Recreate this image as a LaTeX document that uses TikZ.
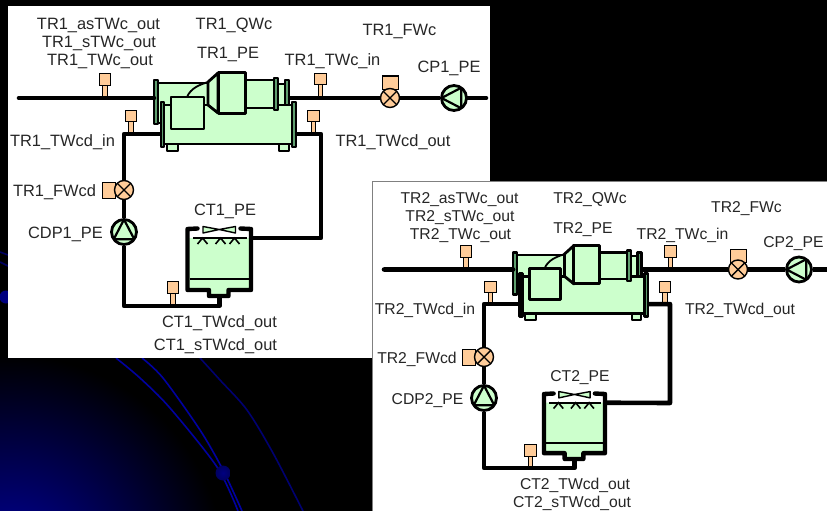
\documentclass[tikz,border=0pt]{standalone}
\usepackage{fontspec}
\setmainfont{Liberation Sans}
\usepackage{tikz}
\usetikzlibrary{calc}

\definecolor{unitgreen}{HTML}{CCFFCC}
\definecolor{flangegreen}{HTML}{5F9F6F}
\definecolor{gaugefill}{HTML}{FFCC99}
\definecolor{arcblue}{RGB}{0,0,160}

\tikzset{
	pipe/.style={line width=4.6pt,line join=round},
	stem/.style={line width=.7pt,double=gaugefill,double distance=3.8pt},
	gauge/.style={draw,rectangle,fill=gaugefill,line width=1pt,inner sep=0,minimum size=11.5pt},
	actuator/.style={gauge,minimum width=16pt,minimum height=13pt},
	sideact/.style={gauge,minimum width=12.5pt,minimum height=16pt},
	valve/.style={draw,circle,fill=gaugefill,line width=1.4pt,inner sep=0,minimum size=19pt,
		path picture={
			\draw[line width=1.4pt,shift={(path picture bounding box.center)}] (45:10pt) -- (225:10pt) (135:10pt) -- (315:10pt);
		}},
	pumpleft/.style={draw,circle,fill=unitgreen,line width=2.8pt,inner sep=0,minimum size=25pt,
		path picture={
			\draw[line width=2.2pt,shift={(path picture bounding box.center)}] (180:12.5pt) -- (55:12.5pt) -- (-55:12.5pt) -- cycle;
		}},
	pumpup/.style={draw,circle,fill=unitgreen,line width=2.8pt,inner sep=0,minimum size=25pt,
		path picture={
			\draw[line width=2.2pt,shift={(path picture bounding box.center)}] (90:12.5pt) -- (215:12.5pt) -- (325:12.5pt) -- cycle;
		}},
	laba/.style={inner sep=0,anchor=base,text=black!85,font=\fontsize{16.4}{18}\selectfont},
	labb/.style={inner sep=0,anchor=base,text=black!85,font=\fontsize{15.7}{18}\selectfont},
	arcline/.style={arcblue,line width=1.6pt},
	chiller/.pic={
		\begin{scope}[draw=black,fill=unitgreen,line width=2.6pt,line join=round]
			\filldraw (2,10) rectangle (55,50);
			\filldraw[line width=2pt] (11,70) rectangle (22,78);
			\filldraw[line width=2pt] (123,70) rectangle (133,78);
			\filldraw (6,32) rectangle (138,71);
			\draw[line width=1.8pt] (31,24) .. controls (35,15) and (43,12) .. (52,9);
			\filldraw (122,11) rectangle (131,32);
			\filldraw[fill=flangegreen] (129,7) rectangle (133,32);
			\filldraw (88,7) rectangle (120,35);
			\filldraw[fill=flangegreen] (118,5) rectangle (122,37);
			\filldraw[line width=2.8pt] (52,9) -- (62,0) -- (62,40) -- (52,32) -- cycle;
			\filldraw[line width=3pt] (62,0) rectangle (89,40);
			\filldraw (15,24) rectangle (48,56);
			\filldraw[fill=flangegreen] (-2,7) rectangle (2,51);
			\filldraw[fill=flangegreen] (5,29) rectangle (8,74);
			\filldraw[fill=flangegreen] (136,29) rectangle (140,74);
		\end{scope}
		\coordinate (-evapin) at (-2,25);
		\coordinate (-evapout) at (133,25);
		\coordinate (-condin) at (5,61);
		\coordinate (-condout) at (140,61);
	},
	tower/.pic={
		\fill[unitgreen] (0,9) -- (63.5,9) -- (63.5,61) -- (41,61) -- (41,67) -- (21.5,67) -- (21.5,61) -- (0,61) -- cycle;
		\draw[line width=4.4pt,line join=round,line cap=round] (10,-.5) -- (0,0) -- (0,61) -- (21.5,61) -- (21.5,67) -- (41,67) -- (41,61) -- (63.5,61) -- (63.5,0) -- (53,-.5);
		\draw[line width=2pt] (2,50) -- (62,50);
		\draw[line width=2pt] (5.5,9) -- (59.5,9);
		\draw[line width=1.4pt,fill=unitgreen,line join=round] (15.5,-2.5) -- (31.7,.5) -- (48,-2.5) -- (48,4) -- (31.7,.5) -- (15.5,4) -- cycle;
		\draw[line width=1.6pt] (10,15) -- (15,9) -- (20,15);
		\draw[line width=1.6pt] (28,15) -- (33,9) -- (38,15);
		\draw[line width=1.6pt] (42,15) -- (47,9) -- (52,15);
		\coordinate (-out) at (63.5,9);
		\coordinate (-in) at (31.7,67);
	}
}

\begin{document}
\begin{tikzpicture}[x=1pt,y=-1pt]
\useasboundingbox (0,0) rectangle (827,511);

% backdrop
\fill[black] (0,0) rectangle (827,511);
\begin{scope}
	\clip (0,0) rectangle (827,511);
	\shade[inner color=arcblue,outer color=black] (10,570) circle (215);
	\draw[arcline] plot[smooth] coordinates {(116,358) (140,378) (170,408) (217,467) (238,511)};
	\draw[arcline] plot[smooth] coordinates {(142,358) (163,378) (200,430) (223,470) (242,511)};
	\draw[arcline,arcblue!70!black] plot[smooth] coordinates {(200,358) (220,380) (247,410) (273,453) (303,511)};
	\draw[arcline,arcblue!60!black] (0,252) -- (8,255);
	\draw[arcline,arcblue!60!black] (0,262) -- (8,266);
	\shade[inner color=arcblue!80!black,outer color=arcblue!60!black] (223,473) circle (7.5);
	\fill[arcblue!80!black] (6,297) circle (6.5);
\end{scope}
\fill[white] (8,6) rectangle (490,358);

% first plant
\pic (tr1) at (156,73) {chiller};
\pic (ct1) at (187.5,229) {tower};

\coordinate (tr1-cwin) at (19,98);
\coordinate (tr1-cwend) at (486,98);
\coordinate (tr1-cnr) at (124,306);
\coordinate (tr1-cnr2) at (321,238);

\node[gauge] (tr1-sout) at (105,79.5) {};
\node[gauge] (tr1-scin) at (320.5,79) {};
\node[gauge] (tr1-scdin) at (131,116) {};
\node[gauge] (tr1-scdout) at (313.5,116) {};
\node[gauge] (ct1-sout) at (173,287.5) {};
\node[actuator] (tr1-cwact) at (390,82.5) {};
\node[sideact] (tr1-cdact) at (109,190) {};
\node[valve] (tr1-cwv) at (390,98) {};
\node[valve] (tr1-cdv) at (124,190) {};
\node[pumpleft] (cp1) at (454,98) {};
\node[pumpup] (cdp1) at (124,232) {};

\draw[stem] (tr1-sout.south) -- (tr1-sout.south |- tr1-cwin);
\draw[stem] (tr1-scin.south) -- (tr1-scin.south |- tr1-cwin);
\draw[stem] (tr1-scdin.south) -- (tr1-scdin.south |- tr1-condin);
\draw[stem] (tr1-scdout.south) -- (tr1-scdout.south |- tr1-condout);
\draw[stem] (ct1-sout.south) -- (ct1-sout.south |- tr1-cnr);

\draw[pipe,line cap=round] (tr1-cwin) -- (tr1-evapin);
\draw[pipe] (tr1-evapout) -- (tr1-cwv);
\draw[pipe] (tr1-cwv) -- (cp1);
\draw[pipe,line cap=round] (cp1) -- (tr1-cwend);
\draw[pipe] (tr1-condin) -| (tr1-cdv);
\draw[pipe] (tr1-cdv) -- (cdp1);
\draw[pipe] (cdp1) -- (tr1-cnr) -| (ct1-in);
\draw[pipe] (tr1-condout) -| (tr1-cnr2) -- (ct1-out);

\node[laba] (l-tr1as) at (98.5,30) {TR1\_asTWc\_out};
\node[laba] (l-tr1s) at (99,48) {TR1\_sTWc\_out};
\node[laba] (l-tr1t) at (100,66) {TR1\_TWc\_out};
\node[laba] (l-tr1q) at (234,30) {TR1\_QWc};
\node[laba] (l-tr1pe) at (228,59) {TR1\_PE};
\node[laba] (l-tr1cin) at (332.5,66) {TR1\_TWc\_in};
\node[laba] (l-tr1fw) at (399.5,36) {TR1\_FWc};
\node[laba] (l-cp1) at (449,73) {CP1\_PE};
\node[laba] (l-tr1cdin) at (62.5,146) {TR1\_TWcd\_in};
\node[laba] (l-tr1cdout) at (393,146) {TR1\_TWcd\_out};
\node[laba] (l-tr1fwcd) at (54.5,196) {TR1\_FWcd};
\node[laba] (l-cdp1) at (65.5,238) {CDP1\_PE};
\node[laba] (l-ct1) at (225,215) {CT1\_PE};
\node[laba] (l-ct1t) at (219.5,327) {CT1\_TWcd\_out};
\node[laba] (l-ct1s) at (215.5,350) {CT1\_sTWcd\_out};

% second plant
\draw[fill=white,draw=black!50,line width=1pt] (372.5,181.5) rectangle (827,511);
\pic[xscale=.95,yscale=.96] (tr2) at (515,245.5) {chiller};
\pic[xscale=.96,yscale=.97] (ct2) at (544,394) {tower};

\coordinate (tr2-cwin) at (384,269.5);
\coordinate (tr2-cwend) at (827,269.5);
\coordinate (tr2-cnr) at (484,468);
\coordinate (tr2-cnr2) at (670,403);

\node[gauge] (tr2-sout) at (466,251.5) {};
\node[gauge] (tr2-scin) at (670.5,251.5) {};
\node[gauge] (tr2-scdin) at (490.5,287) {};
\node[gauge] (tr2-scdout) at (665,287) {};
\node[gauge] (ct2-sout) at (530.5,450.5) {};
\node[actuator] (tr2-cwact) at (738,255.5) {};
\node[sideact] (tr2-cdact) at (469,357.5) {};
\node[valve] (tr2-cwv) at (738,269.5) {};
\node[valve] (tr2-cdv) at (484,357) {};
\node[pumpleft] (cp2) at (799,269.5) {};
\node[pumpup] (cdp2) at (484,398) {};

\draw[stem] (tr2-sout.south) -- (tr2-sout.south |- tr2-cwin);
\draw[stem] (tr2-scin.south) -- (tr2-scin.south |- tr2-cwin);
\draw[stem] (tr2-scdin.south) -- (tr2-scdin.south |- tr2-condin);
\draw[stem] (tr2-scdout.south) -- (tr2-scdout.south |- tr2-condout);
\draw[stem] (ct2-sout.south) -- (ct2-sout.south |- tr2-cnr);

\draw[pipe,line cap=round] (tr2-cwin) -- (tr2-evapin);
\draw[pipe] (tr2-evapout) -- (tr2-cwv);
\draw[pipe] (tr2-cwv) -- (cp2);
\draw[pipe] (cp2) -- (tr2-cwend);
\draw[pipe] (tr2-condin) -| (tr2-cdv);
\draw[pipe] (tr2-cdv) -- (cdp2);
\draw[pipe] (cdp2) -- (tr2-cnr) -| (ct2-in);
\draw[pipe] (tr2-condout) -| (tr2-cnr2) -- (ct2-out);

\node[labb] (l-tr2as) at (459.5,203) {TR2\_asTWc\_out};
\node[labb] (l-tr2s) at (460,221) {TR2\_sTWc\_out};
\node[labb] (l-tr2t) at (460.5,239) {TR2\_TWc\_out};
\node[labb] (l-tr2q) at (590,203) {TR2\_QWc};
\node[labb] (l-tr2pe) at (583,233) {TR2\_PE};
\node[labb] (l-tr2cin) at (682.5,239) {TR2\_TWc\_in};
\node[labb] (l-tr2fw) at (746.5,212) {TR2\_FWc};
\node[labb] (l-cp2) at (793.5,247) {CP2\_PE};
\node[labb] (l-tr2cdin) at (425,314) {TR2\_TWcd\_in};
\node[labb] (l-tr2cdout) at (740,314) {TR2\_TWcd\_out};
\node[labb] (l-tr2fwcd) at (417,363) {TR2\_FWcd};
\node[labb] (l-cdp2) at (427.5,404) {CDP2\_PE};
\node[labb] (l-ct2) at (580,381) {CT2\_PE};
\node[labb] (l-ct2t) at (575,489) {CT2\_TWcd\_out};
\node[labb] (l-ct2s) at (572,507.5) {CT2\_sTWcd\_out};
\end{tikzpicture}
\end{document}
